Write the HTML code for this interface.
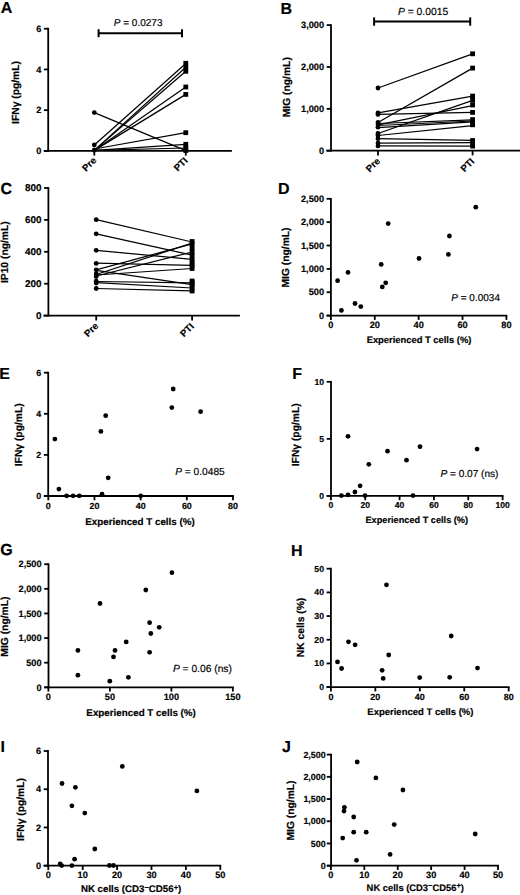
<!DOCTYPE html>
<html><head><meta charset="utf-8"><title>Figure</title>
<style>
html,body{margin:0;padding:0;background:#fff;width:520px;height:895px;overflow:hidden;}
body{position:relative;font-family:"Liberation Sans", sans-serif;}
svg text{stroke:#000;stroke-width:0.18px;text-rendering:geometricPrecision;}
</style></head>
<body>
<svg width="520" height="895" viewBox="0 0 520 895" style="position:absolute;left:0;top:0" fill="#000" stroke="#000" font-family='"Liberation Sans", sans-serif'>
<rect x="0" y="0" width="520" height="895" fill="#fff" stroke="none"/>
<g stroke="none">
<!-- A -->
<g stroke="#000">
<line x1="48.2" y1="27.8" x2="48.2" y2="151.8" stroke-width="1.8" stroke-linecap="butt"/>
<line x1="43.9" y1="150.9" x2="48.2" y2="150.9" stroke-width="1.8" stroke-linecap="butt"/>
<text x="41.3" y="154.12" font-size="9.2" font-weight="bold" text-anchor="end">0</text>
<line x1="43.9" y1="110.17" x2="48.2" y2="110.17" stroke-width="1.8" stroke-linecap="butt"/>
<text x="41.3" y="113.39" font-size="9.2" font-weight="bold" text-anchor="end">2</text>
<line x1="43.9" y1="69.43" x2="48.2" y2="69.43" stroke-width="1.8" stroke-linecap="butt"/>
<text x="41.3" y="72.65" font-size="9.2" font-weight="bold" text-anchor="end">4</text>
<line x1="43.9" y1="28.7" x2="48.2" y2="28.7" stroke-width="1.8" stroke-linecap="butt"/>
<text x="41.3" y="31.92" font-size="9.2" font-weight="bold" text-anchor="end">6</text>
<line x1="43.8" y1="150.9" x2="231.9" y2="150.9" stroke-width="1.8" stroke-linecap="butt"/>
<line x1="94.3" y1="150.9" x2="94.3" y2="155.6" stroke-width="1.8" stroke-linecap="butt"/>
<line x1="185.8" y1="150.9" x2="185.8" y2="155.6" stroke-width="1.8" stroke-linecap="butt"/>
<line x1="94.3" y1="112.6" x2="185.8" y2="150.6" stroke-width="1.25" stroke-linecap="butt"/>
<line x1="94.3" y1="145" x2="185.8" y2="63.5" stroke-width="1.25" stroke-linecap="butt"/>
<line x1="94.3" y1="150.4" x2="185.8" y2="67.3" stroke-width="1.25" stroke-linecap="butt"/>
<line x1="94.3" y1="150.4" x2="185.8" y2="71.3" stroke-width="1.25" stroke-linecap="butt"/>
<line x1="94.3" y1="150.4" x2="185.8" y2="87" stroke-width="1.25" stroke-linecap="butt"/>
<line x1="94.3" y1="150.4" x2="185.8" y2="94.4" stroke-width="1.25" stroke-linecap="butt"/>
<line x1="94.3" y1="149" x2="185.8" y2="132.7" stroke-width="1.25" stroke-linecap="butt"/>
<line x1="94.3" y1="150.4" x2="185.8" y2="144.3" stroke-width="1.25" stroke-linecap="butt"/>
<line x1="94.3" y1="150.4" x2="185.8" y2="148" stroke-width="1.25" stroke-linecap="butt"/>
</g>
<circle cx="94.3" cy="112.6" r="2.4"/>
<circle cx="94.3" cy="145" r="2.4"/>
<circle cx="94.3" cy="150.2" r="2.4"/>
<rect x="183.4" y="60.9" width="4.8" height="4.8"/>
<rect x="183.4" y="64.9" width="4.8" height="4.8"/>
<rect x="183.4" y="68.9" width="4.8" height="4.8"/>
<rect x="183.4" y="84.6" width="4.8" height="4.8"/>
<rect x="183.4" y="92" width="4.8" height="4.8"/>
<rect x="183.4" y="130.3" width="4.8" height="4.8"/>
<rect x="183.4" y="141.9" width="4.8" height="4.8"/>
<rect x="183.4" y="145.4" width="4.8" height="4.8"/>
<rect x="183.4" y="148.1" width="4.8" height="4.8"/>
<text transform="translate(18.6,92.5) rotate(-90)" font-size="10.3" font-weight="bold" text-anchor="middle">IFN&#947; (pg/mL)</text>
<text transform="translate(97,161) rotate(-45)" font-size="9.6" font-weight="bold" text-anchor="end">Pre</text>
<text transform="translate(188.3,161.3) rotate(-45)" font-size="9.6" font-weight="bold" text-anchor="end">PTI</text>
<g stroke="#000">
<line x1="98.6" y1="33.2" x2="182" y2="33.2" stroke-width="2.0" stroke-linecap="butt"/>
<line x1="98.6" y1="29.2" x2="98.6" y2="37.2" stroke-width="2.0" stroke-linecap="butt"/>
<line x1="182" y1="29.2" x2="182" y2="37.2" stroke-width="2.0" stroke-linecap="butt"/>
</g>
<text x="113.8" y="25.5" font-size="10" text-anchor="start"><tspan font-style="italic">P</tspan> = 0.0273</text>
<text x="0.8" y="13.2" font-size="16" font-weight="bold" text-anchor="start">A</text>
<!-- B -->
<g stroke="#000">
<line x1="331" y1="24.2" x2="331" y2="151.6" stroke-width="1.8" stroke-linecap="butt"/>
<line x1="326.7" y1="150.7" x2="331" y2="150.7" stroke-width="1.8" stroke-linecap="butt"/>
<text x="324.1" y="153.92" font-size="9.2" font-weight="bold" text-anchor="end">0</text>
<line x1="326.7" y1="108.83" x2="331" y2="108.83" stroke-width="1.8" stroke-linecap="butt"/>
<text x="324.1" y="112.05" font-size="9.2" font-weight="bold" text-anchor="end">1,000</text>
<line x1="326.7" y1="66.97" x2="331" y2="66.97" stroke-width="1.8" stroke-linecap="butt"/>
<text x="324.1" y="70.19" font-size="9.2" font-weight="bold" text-anchor="end">2,000</text>
<line x1="326.7" y1="25.1" x2="331" y2="25.1" stroke-width="1.8" stroke-linecap="butt"/>
<text x="324.1" y="28.32" font-size="9.2" font-weight="bold" text-anchor="end">3,000</text>
<line x1="326.3" y1="150.7" x2="520" y2="150.7" stroke-width="1.8" stroke-linecap="butt"/>
<line x1="378" y1="150.7" x2="378" y2="155.4" stroke-width="1.8" stroke-linecap="butt"/>
<line x1="472.6" y1="150.7" x2="472.6" y2="155.4" stroke-width="1.8" stroke-linecap="butt"/>
<line x1="378" y1="88" x2="472.6" y2="53.8" stroke-width="1.25" stroke-linecap="butt"/>
<line x1="378" y1="122.5" x2="472.6" y2="68.1" stroke-width="1.25" stroke-linecap="butt"/>
<line x1="378" y1="112.9" x2="472.6" y2="96.1" stroke-width="1.25" stroke-linecap="butt"/>
<line x1="378" y1="133.5" x2="472.6" y2="100.3" stroke-width="1.25" stroke-linecap="butt"/>
<line x1="378" y1="124.8" x2="472.6" y2="105.7" stroke-width="1.25" stroke-linecap="butt"/>
<line x1="378" y1="114.4" x2="472.6" y2="112.4" stroke-width="1.25" stroke-linecap="butt"/>
<line x1="378" y1="123.5" x2="472.6" y2="119.9" stroke-width="1.25" stroke-linecap="butt"/>
<line x1="378" y1="125.5" x2="472.6" y2="121" stroke-width="1.25" stroke-linecap="butt"/>
<line x1="378" y1="127.7" x2="472.6" y2="121.8" stroke-width="1.25" stroke-linecap="butt"/>
<line x1="378" y1="135.5" x2="472.6" y2="125.7" stroke-width="1.25" stroke-linecap="butt"/>
<line x1="378" y1="138.7" x2="472.6" y2="140.4" stroke-width="1.25" stroke-linecap="butt"/>
<line x1="378" y1="143.1" x2="472.6" y2="142.7" stroke-width="1.25" stroke-linecap="butt"/>
<line x1="378" y1="145.9" x2="472.6" y2="146.1" stroke-width="1.25" stroke-linecap="butt"/>
</g>
<circle cx="378" cy="88" r="2.4"/>
<circle cx="378" cy="112.9" r="2.4"/>
<circle cx="378" cy="114.4" r="2.4"/>
<circle cx="378" cy="122.5" r="2.4"/>
<circle cx="378" cy="124.8" r="2.4"/>
<circle cx="378" cy="127.2" r="2.4"/>
<circle cx="378" cy="133.5" r="2.4"/>
<circle cx="378" cy="135.5" r="2.4"/>
<circle cx="378" cy="138.7" r="2.4"/>
<circle cx="378" cy="143.1" r="2.4"/>
<circle cx="378" cy="145.9" r="2.4"/>
<rect x="470.2" y="51.4" width="4.8" height="4.8"/>
<rect x="470.2" y="65.7" width="4.8" height="4.8"/>
<rect x="470.2" y="93.7" width="4.8" height="4.8"/>
<rect x="470.2" y="97.9" width="4.8" height="4.8"/>
<rect x="470.2" y="102.6" width="4.8" height="4.8"/>
<rect x="470.2" y="110" width="4.8" height="4.8"/>
<rect x="470.2" y="117.2" width="4.8" height="4.8"/>
<rect x="470.2" y="119.6" width="4.8" height="4.8"/>
<rect x="470.2" y="122.4" width="4.8" height="4.8"/>
<rect x="470.2" y="138.1" width="4.8" height="4.8"/>
<rect x="470.2" y="140.6" width="4.8" height="4.8"/>
<rect x="470.2" y="143.7" width="4.8" height="4.8"/>
<text transform="translate(289.6,87.2) rotate(-90)" font-size="10.3" font-weight="bold" text-anchor="middle">MIG (ng/mL)</text>
<text transform="translate(380.7,161.7) rotate(-45)" font-size="9.6" font-weight="bold" text-anchor="end">Pre</text>
<text transform="translate(475,162) rotate(-45)" font-size="9.6" font-weight="bold" text-anchor="end">PTI</text>
<g stroke="#000">
<line x1="374.1" y1="21.5" x2="470.2" y2="21.5" stroke-width="2.0" stroke-linecap="butt"/>
<line x1="374.1" y1="17.4" x2="374.1" y2="25.7" stroke-width="2.0" stroke-linecap="butt"/>
<line x1="470.2" y1="17.4" x2="470.2" y2="25.7" stroke-width="2.0" stroke-linecap="butt"/>
</g>
<text x="398" y="15.3" font-size="10.3" text-anchor="start"><tspan font-style="italic">P</tspan> = 0.0015</text>
<text x="280.5" y="13.5" font-size="16" font-weight="bold" text-anchor="start">B</text>
<!-- C -->
<g stroke="#000">
<line x1="48.4" y1="187.1" x2="48.4" y2="316.5" stroke-width="1.8" stroke-linecap="butt"/>
<line x1="44.1" y1="315.6" x2="48.4" y2="315.6" stroke-width="1.8" stroke-linecap="butt"/>
<text x="41.5" y="319.06" font-size="9.9" font-weight="bold" text-anchor="end">0</text>
<line x1="44.1" y1="283.7" x2="48.4" y2="283.7" stroke-width="1.8" stroke-linecap="butt"/>
<text x="41.5" y="287.17" font-size="9.9" font-weight="bold" text-anchor="end">200</text>
<line x1="44.1" y1="251.8" x2="48.4" y2="251.8" stroke-width="1.8" stroke-linecap="butt"/>
<text x="41.5" y="255.27" font-size="9.9" font-weight="bold" text-anchor="end">400</text>
<line x1="44.1" y1="219.9" x2="48.4" y2="219.9" stroke-width="1.8" stroke-linecap="butt"/>
<text x="41.5" y="223.37" font-size="9.9" font-weight="bold" text-anchor="end">600</text>
<line x1="44.1" y1="188" x2="48.4" y2="188" stroke-width="1.8" stroke-linecap="butt"/>
<text x="41.5" y="191.47" font-size="9.9" font-weight="bold" text-anchor="end">800</text>
<line x1="43.4" y1="315.6" x2="239.9" y2="315.6" stroke-width="1.8" stroke-linecap="butt"/>
<line x1="96.2" y1="315.6" x2="96.2" y2="320.5" stroke-width="1.8" stroke-linecap="butt"/>
<line x1="192.1" y1="315.6" x2="192.1" y2="320.5" stroke-width="1.8" stroke-linecap="butt"/>
<line x1="96.2" y1="219.7" x2="192.1" y2="242" stroke-width="1.25" stroke-linecap="butt"/>
<line x1="96.2" y1="233.8" x2="192.1" y2="255.1" stroke-width="1.25" stroke-linecap="butt"/>
<line x1="96.2" y1="250.3" x2="192.1" y2="259.4" stroke-width="1.25" stroke-linecap="butt"/>
<line x1="96.2" y1="263.2" x2="192.1" y2="265.3" stroke-width="1.25" stroke-linecap="butt"/>
<line x1="96.2" y1="269.9" x2="192.1" y2="243.9" stroke-width="1.25" stroke-linecap="butt"/>
<line x1="96.2" y1="274.5" x2="192.1" y2="243" stroke-width="1.25" stroke-linecap="butt"/>
<line x1="96.2" y1="276" x2="192.1" y2="252" stroke-width="1.25" stroke-linecap="butt"/>
<line x1="96.2" y1="275" x2="192.1" y2="268.5" stroke-width="1.25" stroke-linecap="butt"/>
<line x1="96.2" y1="270.3" x2="192.1" y2="284.7" stroke-width="1.25" stroke-linecap="butt"/>
<line x1="96.2" y1="281.5" x2="192.1" y2="282.8" stroke-width="1.25" stroke-linecap="butt"/>
<line x1="96.2" y1="282.7" x2="192.1" y2="288" stroke-width="1.25" stroke-linecap="butt"/>
<line x1="96.2" y1="288.5" x2="192.1" y2="290.8" stroke-width="1.25" stroke-linecap="butt"/>
</g>
<circle cx="96.2" cy="219.7" r="2.4"/>
<circle cx="96.2" cy="233.8" r="2.4"/>
<circle cx="96.2" cy="250.3" r="2.4"/>
<circle cx="96.2" cy="263.4" r="2.4"/>
<circle cx="96.2" cy="269.8" r="2.4"/>
<circle cx="96.2" cy="274" r="2.4"/>
<circle cx="96.2" cy="276.5" r="2.4"/>
<circle cx="96.2" cy="281.2" r="2.4"/>
<circle cx="96.2" cy="283" r="2.4"/>
<circle cx="96.2" cy="288.5" r="2.4"/>
<rect x="189.7" y="239.1" width="4.8" height="4.8"/>
<rect x="189.7" y="241.6" width="4.8" height="4.8"/>
<rect x="189.7" y="245.6" width="4.8" height="4.8"/>
<rect x="189.7" y="249.6" width="4.8" height="4.8"/>
<rect x="189.7" y="252.7" width="4.8" height="4.8"/>
<rect x="189.7" y="257" width="4.8" height="4.8"/>
<rect x="189.7" y="260.6" width="4.8" height="4.8"/>
<rect x="189.7" y="262.9" width="4.8" height="4.8"/>
<rect x="189.7" y="266.1" width="4.8" height="4.8"/>
<rect x="189.7" y="278.6" width="4.8" height="4.8"/>
<rect x="189.7" y="280.4" width="4.8" height="4.8"/>
<rect x="189.7" y="282.3" width="4.8" height="4.8"/>
<rect x="189.7" y="285.6" width="4.8" height="4.8"/>
<rect x="189.7" y="288.6" width="4.8" height="4.8"/>
<text transform="translate(7.8,252.2) rotate(-90)" font-size="10.3" font-weight="bold" text-anchor="middle">IP10 (ng/mL)</text>
<text transform="translate(98.9,326.6) rotate(-45)" font-size="9.6" font-weight="bold" text-anchor="end">Pre</text>
<text transform="translate(194.6,327) rotate(-45)" font-size="9.6" font-weight="bold" text-anchor="end">PTI</text>
<text x="0.5" y="194.3" font-size="16" font-weight="bold" text-anchor="start">C</text>
<!-- D -->
<g stroke="#000">
<line x1="330.9" y1="197.9" x2="330.9" y2="316.5" stroke-width="1.8" stroke-linecap="butt"/>
<line x1="326.6" y1="315.6" x2="330.9" y2="315.6" stroke-width="1.8" stroke-linecap="butt"/>
<text x="324" y="318.82" font-size="9.2" font-weight="bold" text-anchor="end">0</text>
<line x1="326.6" y1="292.24" x2="330.9" y2="292.24" stroke-width="1.8" stroke-linecap="butt"/>
<text x="324" y="295.46" font-size="9.2" font-weight="bold" text-anchor="end">500</text>
<line x1="326.6" y1="268.88" x2="330.9" y2="268.88" stroke-width="1.8" stroke-linecap="butt"/>
<text x="324" y="272.1" font-size="9.2" font-weight="bold" text-anchor="end">1,000</text>
<line x1="326.6" y1="245.52" x2="330.9" y2="245.52" stroke-width="1.8" stroke-linecap="butt"/>
<text x="324" y="248.74" font-size="9.2" font-weight="bold" text-anchor="end">1,500</text>
<line x1="326.6" y1="222.16" x2="330.9" y2="222.16" stroke-width="1.8" stroke-linecap="butt"/>
<text x="324" y="225.38" font-size="9.2" font-weight="bold" text-anchor="end">2,000</text>
<line x1="326.6" y1="198.8" x2="330.9" y2="198.8" stroke-width="1.8" stroke-linecap="butt"/>
<text x="324" y="202.02" font-size="9.2" font-weight="bold" text-anchor="end">2,500</text>
<line x1="326.6" y1="315.6" x2="507.3" y2="315.6" stroke-width="1.8" stroke-linecap="butt"/>
<line x1="330.9" y1="315.6" x2="330.9" y2="319.9" stroke-width="1.8" stroke-linecap="butt"/>
<line x1="374.77" y1="315.6" x2="374.77" y2="319.9" stroke-width="1.8" stroke-linecap="butt"/>
<line x1="418.65" y1="315.6" x2="418.65" y2="319.9" stroke-width="1.8" stroke-linecap="butt"/>
<line x1="462.52" y1="315.6" x2="462.52" y2="319.9" stroke-width="1.8" stroke-linecap="butt"/>
<line x1="506.4" y1="315.6" x2="506.4" y2="319.9" stroke-width="1.8" stroke-linecap="butt"/>
</g>
<text x="330.9" y="328.44" font-size="9.2" font-weight="bold" text-anchor="middle">0</text>
<text x="374.77" y="328.44" font-size="9.2" font-weight="bold" text-anchor="middle">20</text>
<text x="418.65" y="328.44" font-size="9.2" font-weight="bold" text-anchor="middle">40</text>
<text x="462.52" y="328.44" font-size="9.2" font-weight="bold" text-anchor="middle">60</text>
<text x="506.4" y="328.44" font-size="9.2" font-weight="bold" text-anchor="middle">80</text>
<circle cx="475.8" cy="207.2" r="2.4"/>
<circle cx="388.2" cy="223.6" r="2.4"/>
<circle cx="449.4" cy="236" r="2.4"/>
<circle cx="448.4" cy="254.4" r="2.4"/>
<circle cx="419" cy="258.5" r="2.4"/>
<circle cx="381.2" cy="264.4" r="2.4"/>
<circle cx="348" cy="272.4" r="2.4"/>
<circle cx="337.6" cy="280.7" r="2.4"/>
<circle cx="385.7" cy="282.8" r="2.4"/>
<circle cx="382.3" cy="286.9" r="2.4"/>
<circle cx="355" cy="303.5" r="2.4"/>
<circle cx="360.8" cy="306.6" r="2.4"/>
<circle cx="341.4" cy="310.4" r="2.4"/>
<text transform="translate(288.7,257.5) rotate(-90)" font-size="10.3" font-weight="bold" text-anchor="middle">MIG (ng/mL)</text>
<text x="419" y="343.3" font-size="9.4" font-weight="bold" text-anchor="middle">Experienced T cells (%)</text>
<text x="278" y="193.8" font-size="16" font-weight="bold" text-anchor="start">D</text>
<text x="451.3" y="301.1" font-size="10" text-anchor="start"><tspan font-style="italic">P</tspan> = 0.0034</text>
<!-- E -->
<g stroke="#000">
<line x1="48.2" y1="371.8" x2="48.2" y2="496.9" stroke-width="1.8" stroke-linecap="butt"/>
<line x1="43.9" y1="496" x2="48.2" y2="496" stroke-width="1.8" stroke-linecap="butt"/>
<text x="41.3" y="499.12" font-size="8.9" font-weight="bold" text-anchor="end">0</text>
<line x1="43.9" y1="454.9" x2="48.2" y2="454.9" stroke-width="1.8" stroke-linecap="butt"/>
<text x="41.3" y="458.01" font-size="8.9" font-weight="bold" text-anchor="end">2</text>
<line x1="43.9" y1="413.8" x2="48.2" y2="413.8" stroke-width="1.8" stroke-linecap="butt"/>
<text x="41.3" y="416.92" font-size="8.9" font-weight="bold" text-anchor="end">4</text>
<line x1="43.9" y1="372.7" x2="48.2" y2="372.7" stroke-width="1.8" stroke-linecap="butt"/>
<text x="41.3" y="375.81" font-size="8.9" font-weight="bold" text-anchor="end">6</text>
<line x1="43.9" y1="496" x2="233.9" y2="496" stroke-width="1.8" stroke-linecap="butt"/>
<line x1="48.3" y1="496" x2="48.3" y2="500.3" stroke-width="1.8" stroke-linecap="butt"/>
<line x1="94.47" y1="496" x2="94.47" y2="500.3" stroke-width="1.8" stroke-linecap="butt"/>
<line x1="140.65" y1="496" x2="140.65" y2="500.3" stroke-width="1.8" stroke-linecap="butt"/>
<line x1="186.82" y1="496" x2="186.82" y2="500.3" stroke-width="1.8" stroke-linecap="butt"/>
<line x1="233" y1="496" x2="233" y2="500.3" stroke-width="1.8" stroke-linecap="butt"/>
</g>
<text x="48.3" y="508.63" font-size="8.9" font-weight="bold" text-anchor="middle">0</text>
<text x="94.47" y="508.63" font-size="8.9" font-weight="bold" text-anchor="middle">20</text>
<text x="140.65" y="508.63" font-size="8.9" font-weight="bold" text-anchor="middle">40</text>
<text x="186.82" y="508.63" font-size="8.9" font-weight="bold" text-anchor="middle">60</text>
<text x="233" y="508.63" font-size="8.9" font-weight="bold" text-anchor="middle">80</text>
<circle cx="54.9" cy="439.1" r="2.4"/>
<circle cx="58.9" cy="489.1" r="2.4"/>
<circle cx="66.6" cy="495.8" r="2.4"/>
<circle cx="73.1" cy="495.8" r="2.4"/>
<circle cx="79.3" cy="495.8" r="2.4"/>
<circle cx="100.9" cy="431.4" r="2.4"/>
<circle cx="105.7" cy="415.7" r="2.4"/>
<circle cx="108.2" cy="477.8" r="2.4"/>
<circle cx="102" cy="494.2" r="2.4"/>
<circle cx="140.7" cy="495.8" r="2.4"/>
<circle cx="171.8" cy="407.6" r="2.4"/>
<circle cx="173.2" cy="389" r="2.4"/>
<circle cx="200.6" cy="411.7" r="2.4"/>
<text transform="translate(22,434.8) rotate(-90)" font-size="10.3" font-weight="bold" text-anchor="middle">IFN&#947; (pg/mL)</text>
<text x="140" y="525.2" font-size="9.8" font-weight="bold" text-anchor="middle">Experienced T cells (%)</text>
<text x="-0.8" y="379.4" font-size="16" font-weight="bold" text-anchor="start">E</text>
<text x="175.2" y="474.9" font-size="10.2" text-anchor="start"><tspan font-style="italic">P</tspan> = 0.0485</text>
<!-- F -->
<g stroke="#000">
<line x1="331" y1="380.9" x2="331" y2="496.8" stroke-width="1.8" stroke-linecap="butt"/>
<line x1="326.7" y1="495.9" x2="331" y2="495.9" stroke-width="1.8" stroke-linecap="butt"/>
<text x="324.1" y="498.91" font-size="8.6" font-weight="bold" text-anchor="end">0</text>
<line x1="326.7" y1="438.85" x2="331" y2="438.85" stroke-width="1.8" stroke-linecap="butt"/>
<text x="324.1" y="441.86" font-size="8.6" font-weight="bold" text-anchor="end">5</text>
<line x1="326.7" y1="381.8" x2="331" y2="381.8" stroke-width="1.8" stroke-linecap="butt"/>
<text x="324.1" y="384.81" font-size="8.6" font-weight="bold" text-anchor="end">10</text>
<line x1="326.7" y1="495.9" x2="503.5" y2="495.9" stroke-width="1.8" stroke-linecap="butt"/>
<line x1="330.9" y1="495.9" x2="330.9" y2="500.2" stroke-width="1.8" stroke-linecap="butt"/>
<line x1="365.24" y1="495.9" x2="365.24" y2="500.2" stroke-width="1.8" stroke-linecap="butt"/>
<line x1="399.58" y1="495.9" x2="399.58" y2="500.2" stroke-width="1.8" stroke-linecap="butt"/>
<line x1="433.92" y1="495.9" x2="433.92" y2="500.2" stroke-width="1.8" stroke-linecap="butt"/>
<line x1="468.26" y1="495.9" x2="468.26" y2="500.2" stroke-width="1.8" stroke-linecap="butt"/>
<line x1="502.6" y1="495.9" x2="502.6" y2="500.2" stroke-width="1.8" stroke-linecap="butt"/>
</g>
<text x="330.9" y="508.02" font-size="8.6" font-weight="bold" text-anchor="middle">0</text>
<text x="365.24" y="508.02" font-size="8.6" font-weight="bold" text-anchor="middle">20</text>
<text x="399.58" y="508.02" font-size="8.6" font-weight="bold" text-anchor="middle">40</text>
<text x="433.92" y="508.02" font-size="8.6" font-weight="bold" text-anchor="middle">60</text>
<text x="468.26" y="508.02" font-size="8.6" font-weight="bold" text-anchor="middle">80</text>
<text x="502.6" y="508.02" font-size="8.6" font-weight="bold" text-anchor="middle">100</text>
<circle cx="348" cy="436.3" r="2.4"/>
<circle cx="387.5" cy="451.2" r="2.4"/>
<circle cx="420" cy="446.7" r="2.4"/>
<circle cx="406.5" cy="460.2" r="2.4"/>
<circle cx="368.8" cy="464.3" r="2.4"/>
<circle cx="477.1" cy="449.1" r="2.4"/>
<circle cx="360.1" cy="485.8" r="2.4"/>
<circle cx="354.9" cy="492" r="2.4"/>
<circle cx="341.4" cy="495.6" r="2.4"/>
<circle cx="348" cy="494.9" r="2.4"/>
<circle cx="365" cy="495.6" r="2.4"/>
<circle cx="413" cy="495.6" r="2.4"/>
<text transform="translate(298.8,434.8) rotate(-90)" font-size="10.3" font-weight="bold" text-anchor="middle">IFN&#947; (pg/mL)</text>
<text x="416.8" y="522.9" font-size="9.2" font-weight="bold" text-anchor="middle">Experienced T cells (%)</text>
<text x="292.2" y="378.8" font-size="16" font-weight="bold" text-anchor="start">F</text>
<text x="440.4" y="476.7" font-size="10.1" text-anchor="start"><tspan font-style="italic">P</tspan> = 0.07 (ns)</text>
<!-- G -->
<g stroke="#000">
<line x1="48.5" y1="563.3" x2="48.5" y2="688.2" stroke-width="1.8" stroke-linecap="butt"/>
<line x1="44.2" y1="687.3" x2="48.5" y2="687.3" stroke-width="1.8" stroke-linecap="butt"/>
<text x="41.6" y="690.52" font-size="9.2" font-weight="bold" text-anchor="end">0</text>
<line x1="44.2" y1="662.68" x2="48.5" y2="662.68" stroke-width="1.8" stroke-linecap="butt"/>
<text x="41.6" y="665.9" font-size="9.2" font-weight="bold" text-anchor="end">500</text>
<line x1="44.2" y1="638.06" x2="48.5" y2="638.06" stroke-width="1.8" stroke-linecap="butt"/>
<text x="41.6" y="641.28" font-size="9.2" font-weight="bold" text-anchor="end">1,000</text>
<line x1="44.2" y1="613.44" x2="48.5" y2="613.44" stroke-width="1.8" stroke-linecap="butt"/>
<text x="41.6" y="616.66" font-size="9.2" font-weight="bold" text-anchor="end">1,500</text>
<line x1="44.2" y1="588.82" x2="48.5" y2="588.82" stroke-width="1.8" stroke-linecap="butt"/>
<text x="41.6" y="592.04" font-size="9.2" font-weight="bold" text-anchor="end">2,000</text>
<line x1="44.2" y1="564.2" x2="48.5" y2="564.2" stroke-width="1.8" stroke-linecap="butt"/>
<text x="41.6" y="567.42" font-size="9.2" font-weight="bold" text-anchor="end">2,500</text>
<line x1="44.2" y1="687.3" x2="233.8" y2="687.3" stroke-width="1.8" stroke-linecap="butt"/>
<line x1="48.4" y1="687.3" x2="48.4" y2="691.6" stroke-width="1.8" stroke-linecap="butt"/>
<line x1="109.9" y1="687.3" x2="109.9" y2="691.6" stroke-width="1.8" stroke-linecap="butt"/>
<line x1="171.4" y1="687.3" x2="171.4" y2="691.6" stroke-width="1.8" stroke-linecap="butt"/>
<line x1="232.9" y1="687.3" x2="232.9" y2="691.6" stroke-width="1.8" stroke-linecap="butt"/>
</g>
<text x="48.4" y="700.14" font-size="9.2" font-weight="bold" text-anchor="middle">0</text>
<text x="109.9" y="700.14" font-size="9.2" font-weight="bold" text-anchor="middle">50</text>
<text x="171.4" y="700.14" font-size="9.2" font-weight="bold" text-anchor="middle">100</text>
<text x="232.9" y="700.14" font-size="9.2" font-weight="bold" text-anchor="middle">150</text>
<circle cx="171.9" cy="572.7" r="2.4"/>
<circle cx="145.8" cy="590" r="2.4"/>
<circle cx="100" cy="603.5" r="2.4"/>
<circle cx="149.6" cy="622.7" r="2.4"/>
<circle cx="159.2" cy="627.3" r="2.4"/>
<circle cx="150.8" cy="633.5" r="2.4"/>
<circle cx="126.2" cy="641.9" r="2.4"/>
<circle cx="77.9" cy="650.4" r="2.4"/>
<circle cx="115" cy="650.4" r="2.4"/>
<circle cx="149.6" cy="652.3" r="2.4"/>
<circle cx="113.5" cy="656.9" r="2.4"/>
<circle cx="77.9" cy="675.2" r="2.4"/>
<circle cx="128.4" cy="677.3" r="2.4"/>
<circle cx="109.8" cy="681.2" r="2.4"/>
<text transform="translate(8,626.6) rotate(-90)" font-size="10.3" font-weight="bold" text-anchor="middle">MIG (ng/mL)</text>
<text x="141.1" y="716.4" font-size="9.8" font-weight="bold" text-anchor="middle">Experienced T cells (%)</text>
<text x="0.2" y="555.2" font-size="16" font-weight="bold" text-anchor="start">G</text>
<text x="172.9" y="671.8" font-size="10.25" text-anchor="start"><tspan font-style="italic">P</tspan> = 0.06 (ns)</text>
<!-- H -->
<g stroke="#000">
<line x1="330.9" y1="567.8" x2="330.9" y2="688" stroke-width="1.8" stroke-linecap="butt"/>
<line x1="326.6" y1="687.1" x2="330.9" y2="687.1" stroke-width="1.8" stroke-linecap="butt"/>
<text x="324" y="690.14" font-size="8.7" font-weight="bold" text-anchor="end">0</text>
<line x1="326.6" y1="663.42" x2="330.9" y2="663.42" stroke-width="1.8" stroke-linecap="butt"/>
<text x="324" y="666.47" font-size="8.7" font-weight="bold" text-anchor="end">10</text>
<line x1="326.6" y1="639.74" x2="330.9" y2="639.74" stroke-width="1.8" stroke-linecap="butt"/>
<text x="324" y="642.78" font-size="8.7" font-weight="bold" text-anchor="end">20</text>
<line x1="326.6" y1="616.06" x2="330.9" y2="616.06" stroke-width="1.8" stroke-linecap="butt"/>
<text x="324" y="619.11" font-size="8.7" font-weight="bold" text-anchor="end">30</text>
<line x1="326.6" y1="592.38" x2="330.9" y2="592.38" stroke-width="1.8" stroke-linecap="butt"/>
<text x="324" y="595.42" font-size="8.7" font-weight="bold" text-anchor="end">40</text>
<line x1="326.6" y1="568.7" x2="330.9" y2="568.7" stroke-width="1.8" stroke-linecap="butt"/>
<text x="324" y="571.75" font-size="8.7" font-weight="bold" text-anchor="end">50</text>
<line x1="326.6" y1="687.1" x2="509.6" y2="687.1" stroke-width="1.8" stroke-linecap="butt"/>
<line x1="330.9" y1="687.1" x2="330.9" y2="691.4" stroke-width="1.8" stroke-linecap="butt"/>
<line x1="375.35" y1="687.1" x2="375.35" y2="691.4" stroke-width="1.8" stroke-linecap="butt"/>
<line x1="419.8" y1="687.1" x2="419.8" y2="691.4" stroke-width="1.8" stroke-linecap="butt"/>
<line x1="464.25" y1="687.1" x2="464.25" y2="691.4" stroke-width="1.8" stroke-linecap="butt"/>
<line x1="508.7" y1="687.1" x2="508.7" y2="691.4" stroke-width="1.8" stroke-linecap="butt"/>
</g>
<text x="330.9" y="699.8" font-size="9.0" font-weight="bold" text-anchor="middle">0</text>
<text x="375.35" y="699.8" font-size="9.0" font-weight="bold" text-anchor="middle">20</text>
<text x="419.8" y="699.8" font-size="9.0" font-weight="bold" text-anchor="middle">40</text>
<text x="464.25" y="699.8" font-size="9.0" font-weight="bold" text-anchor="middle">60</text>
<text x="508.7" y="699.8" font-size="9.0" font-weight="bold" text-anchor="middle">80</text>
<circle cx="386.5" cy="584.8" r="2.4"/>
<circle cx="451.2" cy="636" r="2.4"/>
<circle cx="348.5" cy="641.8" r="2.4"/>
<circle cx="355.1" cy="644.8" r="2.4"/>
<circle cx="388.7" cy="655" r="2.4"/>
<circle cx="337.5" cy="661.9" r="2.4"/>
<circle cx="341.6" cy="668.5" r="2.4"/>
<circle cx="477.5" cy="668.1" r="2.4"/>
<circle cx="382.1" cy="670.3" r="2.4"/>
<circle cx="383.2" cy="678.4" r="2.4"/>
<circle cx="419.7" cy="677.6" r="2.4"/>
<circle cx="449.7" cy="677.3" r="2.4"/>
<text transform="translate(303.8,627.5) rotate(-90)" font-size="10.3" font-weight="bold" text-anchor="middle">NK cells (%)</text>
<text x="420.4" y="715.2" font-size="9.5" font-weight="bold" text-anchor="middle">Experienced T cells (%)</text>
<text x="291" y="555.6" font-size="16" font-weight="bold" text-anchor="start">H</text>
<!-- I -->
<g stroke="#000">
<line x1="48" y1="750.1" x2="48" y2="866.6" stroke-width="1.8" stroke-linecap="butt"/>
<line x1="43.7" y1="865.7" x2="48" y2="865.7" stroke-width="1.8" stroke-linecap="butt"/>
<text x="41.1" y="868.92" font-size="9.2" font-weight="bold" text-anchor="end">0</text>
<line x1="43.7" y1="827.47" x2="48" y2="827.47" stroke-width="1.8" stroke-linecap="butt"/>
<text x="41.1" y="830.69" font-size="9.2" font-weight="bold" text-anchor="end">2</text>
<line x1="43.7" y1="789.23" x2="48" y2="789.23" stroke-width="1.8" stroke-linecap="butt"/>
<text x="41.1" y="792.45" font-size="9.2" font-weight="bold" text-anchor="end">4</text>
<line x1="43.7" y1="751" x2="48" y2="751" stroke-width="1.8" stroke-linecap="butt"/>
<text x="41.1" y="754.22" font-size="9.2" font-weight="bold" text-anchor="end">6</text>
<line x1="43.7" y1="865.7" x2="221.2" y2="865.7" stroke-width="1.8" stroke-linecap="butt"/>
<line x1="48.3" y1="865.7" x2="48.3" y2="870" stroke-width="1.8" stroke-linecap="butt"/>
<line x1="82.7" y1="865.7" x2="82.7" y2="870" stroke-width="1.8" stroke-linecap="butt"/>
<line x1="117.1" y1="865.7" x2="117.1" y2="870" stroke-width="1.8" stroke-linecap="butt"/>
<line x1="151.5" y1="865.7" x2="151.5" y2="870" stroke-width="1.8" stroke-linecap="butt"/>
<line x1="185.9" y1="865.7" x2="185.9" y2="870" stroke-width="1.8" stroke-linecap="butt"/>
<line x1="220.3" y1="865.7" x2="220.3" y2="870" stroke-width="1.8" stroke-linecap="butt"/>
</g>
<text x="48.3" y="877.84" font-size="9.2" font-weight="bold" text-anchor="middle">0</text>
<text x="82.7" y="877.84" font-size="9.2" font-weight="bold" text-anchor="middle">10</text>
<text x="117.1" y="877.84" font-size="9.2" font-weight="bold" text-anchor="middle">20</text>
<text x="151.5" y="877.84" font-size="9.2" font-weight="bold" text-anchor="middle">30</text>
<text x="185.9" y="877.84" font-size="9.2" font-weight="bold" text-anchor="middle">40</text>
<text x="220.3" y="877.84" font-size="9.2" font-weight="bold" text-anchor="middle">50</text>
<circle cx="62" cy="783.5" r="2.4"/>
<circle cx="75.4" cy="787.3" r="2.4"/>
<circle cx="71.9" cy="805.8" r="2.4"/>
<circle cx="84.8" cy="813.1" r="2.4"/>
<circle cx="122.3" cy="766.4" r="2.4"/>
<circle cx="196.9" cy="790.9" r="2.4"/>
<circle cx="94.8" cy="849" r="2.4"/>
<circle cx="74.6" cy="859.2" r="2.4"/>
<circle cx="60.2" cy="864" r="2.4"/>
<circle cx="61.7" cy="865.6" r="2.4"/>
<circle cx="71.9" cy="865.6" r="2.4"/>
<circle cx="109.4" cy="865.5" r="2.4"/>
<circle cx="113.5" cy="865.5" r="2.4"/>
<text transform="translate(24,809.5) rotate(-90)" font-size="10.3" font-weight="bold" text-anchor="middle">IFN&#947; (pg/mL)</text>
<text x="131.1" y="892" font-size="9.7" font-weight="bold" text-anchor="middle">NK cells (CD3<tspan font-size="7.5" dy="-2.3">&#8722;</tspan><tspan dy="2.3">CD56</tspan><tspan font-size="7.5" dy="-2.3">+</tspan><tspan dy="2.3">)</tspan></text>
<text x="0.4" y="751.7" font-size="16" font-weight="bold" text-anchor="start">I</text>
<!-- J -->
<g stroke="#000">
<line x1="331.1" y1="753.7" x2="331.1" y2="866.6" stroke-width="1.8" stroke-linecap="butt"/>
<line x1="326.8" y1="865.7" x2="331.1" y2="865.7" stroke-width="1.8" stroke-linecap="butt"/>
<text x="325.6" y="868.82" font-size="8.9" font-weight="bold" text-anchor="end">0</text>
<line x1="326.8" y1="843.48" x2="331.1" y2="843.48" stroke-width="1.8" stroke-linecap="butt"/>
<text x="325.6" y="846.6" font-size="8.9" font-weight="bold" text-anchor="end">500</text>
<line x1="326.8" y1="821.26" x2="331.1" y2="821.26" stroke-width="1.8" stroke-linecap="butt"/>
<text x="325.6" y="824.38" font-size="8.9" font-weight="bold" text-anchor="end">1,000</text>
<line x1="326.8" y1="799.04" x2="331.1" y2="799.04" stroke-width="1.8" stroke-linecap="butt"/>
<text x="325.6" y="802.15" font-size="8.9" font-weight="bold" text-anchor="end">1,500</text>
<line x1="326.8" y1="776.82" x2="331.1" y2="776.82" stroke-width="1.8" stroke-linecap="butt"/>
<text x="325.6" y="779.94" font-size="8.9" font-weight="bold" text-anchor="end">2,000</text>
<line x1="326.8" y1="754.6" x2="331.1" y2="754.6" stroke-width="1.8" stroke-linecap="butt"/>
<text x="325.6" y="757.72" font-size="8.9" font-weight="bold" text-anchor="end">2,500</text>
<line x1="326.8" y1="865.7" x2="498.9" y2="865.7" stroke-width="1.8" stroke-linecap="butt"/>
<line x1="330.9" y1="865.7" x2="330.9" y2="870" stroke-width="1.8" stroke-linecap="butt"/>
<line x1="364.32" y1="865.7" x2="364.32" y2="870" stroke-width="1.8" stroke-linecap="butt"/>
<line x1="397.74" y1="865.7" x2="397.74" y2="870" stroke-width="1.8" stroke-linecap="butt"/>
<line x1="431.16" y1="865.7" x2="431.16" y2="870" stroke-width="1.8" stroke-linecap="butt"/>
<line x1="464.58" y1="865.7" x2="464.58" y2="870" stroke-width="1.8" stroke-linecap="butt"/>
<line x1="498" y1="865.7" x2="498" y2="870" stroke-width="1.8" stroke-linecap="butt"/>
</g>
<text x="330.9" y="877.54" font-size="9.2" font-weight="bold" text-anchor="middle">0</text>
<text x="364.32" y="877.54" font-size="9.2" font-weight="bold" text-anchor="middle">10</text>
<text x="397.74" y="877.54" font-size="9.2" font-weight="bold" text-anchor="middle">20</text>
<text x="431.16" y="877.54" font-size="9.2" font-weight="bold" text-anchor="middle">30</text>
<text x="464.58" y="877.54" font-size="9.2" font-weight="bold" text-anchor="middle">40</text>
<text x="498" y="877.54" font-size="9.2" font-weight="bold" text-anchor="middle">50</text>
<circle cx="357.2" cy="762" r="2.4"/>
<circle cx="375.9" cy="777.9" r="2.4"/>
<circle cx="402.9" cy="790" r="2.4"/>
<circle cx="344.4" cy="807.3" r="2.4"/>
<circle cx="344" cy="811.1" r="2.4"/>
<circle cx="353.7" cy="817" r="2.4"/>
<circle cx="394.2" cy="824.6" r="2.4"/>
<circle cx="353.7" cy="832.2" r="2.4"/>
<circle cx="366.2" cy="832.2" r="2.4"/>
<circle cx="475.2" cy="834" r="2.4"/>
<circle cx="342.7" cy="838.1" r="2.4"/>
<circle cx="390.1" cy="854.4" r="2.4"/>
<circle cx="356.5" cy="860.3" r="2.4"/>
<text transform="translate(294.2,810.5) rotate(-90)" font-size="10.3" font-weight="bold" text-anchor="middle">MIG (ng/mL)</text>
<text x="415.3" y="890.6" font-size="9.4" font-weight="bold" text-anchor="middle">NK cells (CD3<tspan font-size="7.5" dy="-2.3">&#8722;</tspan><tspan dy="2.3">CD56</tspan><tspan font-size="7.5" dy="-2.3">+</tspan><tspan dy="2.3">)</tspan></text>
<text x="282" y="752.1" font-size="16" font-weight="bold" text-anchor="start">J</text>
</g>
</svg>
</body></html>
